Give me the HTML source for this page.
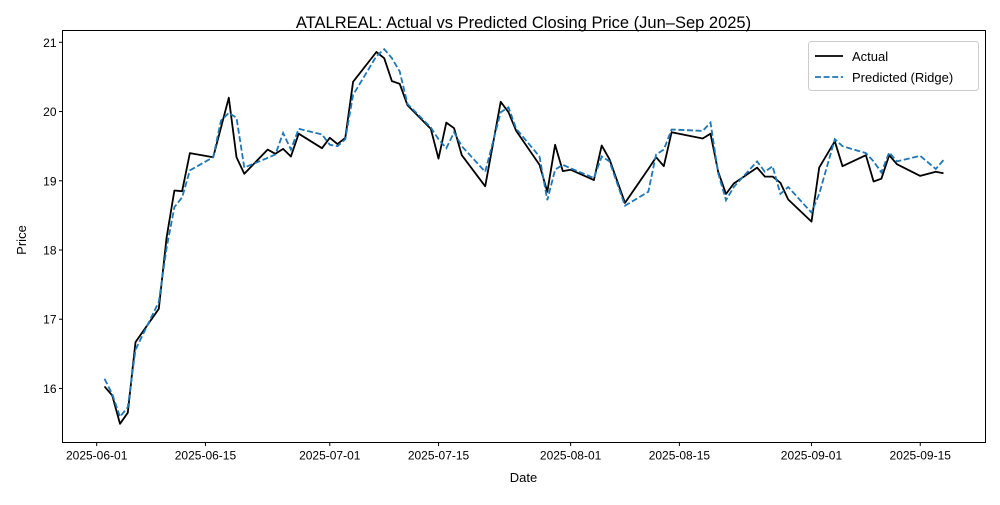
<!DOCTYPE html>
<html><head><meta charset="utf-8"><style>
body{margin:0;background:#fff}
svg text{font-family:"Liberation Sans","DejaVu Sans",sans-serif;fill:#000}
</style></head><body>
<svg id="chart" width="1000" height="500" xmlns="http://www.w3.org/2000/svg">
<rect width="1000" height="500" fill="#fff"/>
<text x="523.5" y="28" font-size="16.5" text-anchor="middle">ATALREAL: Actual vs Predicted Closing Price (Jun–Sep 2025)</text>
<g id="grid"></g>
<g id="plot"></g>
<rect x="62.5" y="30.5" width="923" height="412" fill="none" stroke="#000" stroke-width="1"/>
<g id="xticks"></g><g id="yticks"></g>
<text x="523.5" y="482" font-size="13" text-anchor="middle">Date</text>
<text x="26" y="240" font-size="13" text-anchor="middle" transform="rotate(-90 26 240)">Price</text>
<g>
<rect x="808.5" y="41.5" width="170" height="49" fill="#fff" fill-opacity="0.8" stroke="#ccc" rx="3"/>
<line x1="815" y1="56" x2="843" y2="56" stroke="#000" stroke-width="1.8"/>
<text x="852" y="61" font-size="13">Actual</text>
<line x1="815" y1="77" x2="843" y2="77" stroke="#1f77b4" stroke-width="1.8" stroke-dasharray="6,2.6"/>
<text x="852" y="82" font-size="13">Predicted (Ridge)</text>
</g>
</svg>
<script>
const dates=["2025-06-02","2025-06-03","2025-06-04","2025-06-05","2025-06-06","2025-06-09","2025-06-10","2025-06-11","2025-06-12","2025-06-13","2025-06-16","2025-06-17","2025-06-18","2025-06-19","2025-06-20","2025-06-23","2025-06-24","2025-06-25","2025-06-26","2025-06-27","2025-06-30","2025-07-01","2025-07-02","2025-07-03","2025-07-04","2025-07-07","2025-07-08","2025-07-09","2025-07-10","2025-07-11","2025-07-14","2025-07-15","2025-07-16","2025-07-17","2025-07-18","2025-07-21","2025-07-23","2025-07-24","2025-07-25","2025-07-28","2025-07-29","2025-07-30","2025-07-31","2025-08-01","2025-08-04","2025-08-05","2025-08-06","2025-08-08","2025-08-11","2025-08-12","2025-08-13","2025-08-14","2025-08-18","2025-08-19","2025-08-20","2025-08-21","2025-08-22","2025-08-25","2025-08-26","2025-08-27","2025-08-28","2025-08-29","2025-09-01","2025-09-02","2025-09-04","2025-09-05","2025-09-08","2025-09-09","2025-09-10","2025-09-11","2025-09-12","2025-09-15","2025-09-17","2025-09-18"];
const actual=[16.03,15.90,15.49,15.65,16.67,17.15,18.18,18.86,18.85,19.40,19.34,19.77,20.20,19.34,19.10,19.45,19.39,19.46,19.35,19.68,19.47,19.62,19.53,19.62,20.43,20.86,20.77,20.44,20.40,20.09,19.75,19.32,19.84,19.76,19.37,18.92,20.14,19.99,19.72,19.23,18.84,19.52,19.14,19.16,19.01,19.51,19.31,18.68,19.17,19.34,19.21,19.70,19.61,19.68,19.13,18.81,18.96,19.19,19.06,19.06,18.97,18.73,18.41,19.19,19.57,19.21,19.37,18.99,19.03,19.37,19.24,19.07,19.13,19.11];
const predicted=[16.14,15.92,15.59,15.73,16.56,17.25,18.03,18.62,18.76,19.15,19.34,19.87,19.98,19.91,19.19,19.33,19.38,19.69,19.45,19.75,19.67,19.52,19.50,19.60,20.24,20.80,20.90,20.77,20.58,20.11,19.77,19.60,19.47,19.70,19.50,19.13,19.99,20.06,19.75,19.35,18.72,19.16,19.23,19.18,19.04,19.35,19.28,18.64,18.84,19.38,19.45,19.74,19.72,19.84,19.11,18.72,18.91,19.28,19.13,19.21,18.81,18.91,18.54,18.81,19.60,19.50,19.40,19.28,19.12,19.41,19.28,19.36,19.17,19.30];
const xTickLabels=["2025-06-01","2025-06-15","2025-07-01","2025-07-15","2025-08-01","2025-08-15","2025-09-01","2025-09-15"];
const yTickLabels=[16,17,18,19,20,21];

const NS="http://www.w3.org/2000/svg";
const L=62.5,R=985.5,T=30.5,B=442.5;
const day=s=>Date.parse(s+"T00:00:00Z")/86400000;
const ds=dates.map(day);
const dmin=Math.min(...ds),dmax=Math.max(...ds),dm=(dmax-dmin)*0.05;
const all=actual.concat(predicted);
const vmin=Math.min(...all),vmax=Math.max(...all),vm=(vmax-vmin)*0.05;
const xs=d=>L+(d-(dmin-dm))/((dmax+dm)-(dmin-dm))*(R-L);
const ys=v=>B-(v-(vmin-vm))/((vmax+vm)-(vmin-vm))*(B-T);
function mk(tag,attrs,parent){const e=document.createElementNS(NS,tag);for(const k in attrs)e.setAttribute(k,attrs[k]);parent.appendChild(e);return e;}
const plot=document.getElementById('plot');
const pts=arr=>arr.map((v,i)=>xs(ds[i]).toFixed(1)+","+ys(v).toFixed(1)).join(" ");
const la=mk('polyline',{points:pts(actual),fill:"none",stroke:"#000","stroke-width":1.8,"stroke-linejoin":"round"},plot);


const lp=mk('polyline',{points:pts(predicted),fill:"none",stroke:"#1f77b4","stroke-width":1.8,"stroke-dasharray":"6,2.6"},plot);


const xt=document.getElementById('xticks');
xTickLabels.forEach(s=>{const x=xs(day(s));
 const t=mk('line',{x1:x,y1:B,x2:x,y2:B+3.5,stroke:"#000"},xt);
 
 
 const tx=mk('text',{x:x,y:B+17,"font-size":12,"text-anchor":"middle"},xt);tx.textContent=s;
 
 });
const yt=document.getElementById('yticks');
yTickLabels.forEach(v=>{const y=ys(v);
 const t=mk('line',{x1:L-3.5,y1:y,x2:L,y2:y,stroke:"#000"},yt);
 
 
 const tx=mk('text',{x:L-6,y:y+4.5,"font-size":12,"text-anchor":"end"},yt);tx.textContent=v;
 
 });
</script>
</body></html>
